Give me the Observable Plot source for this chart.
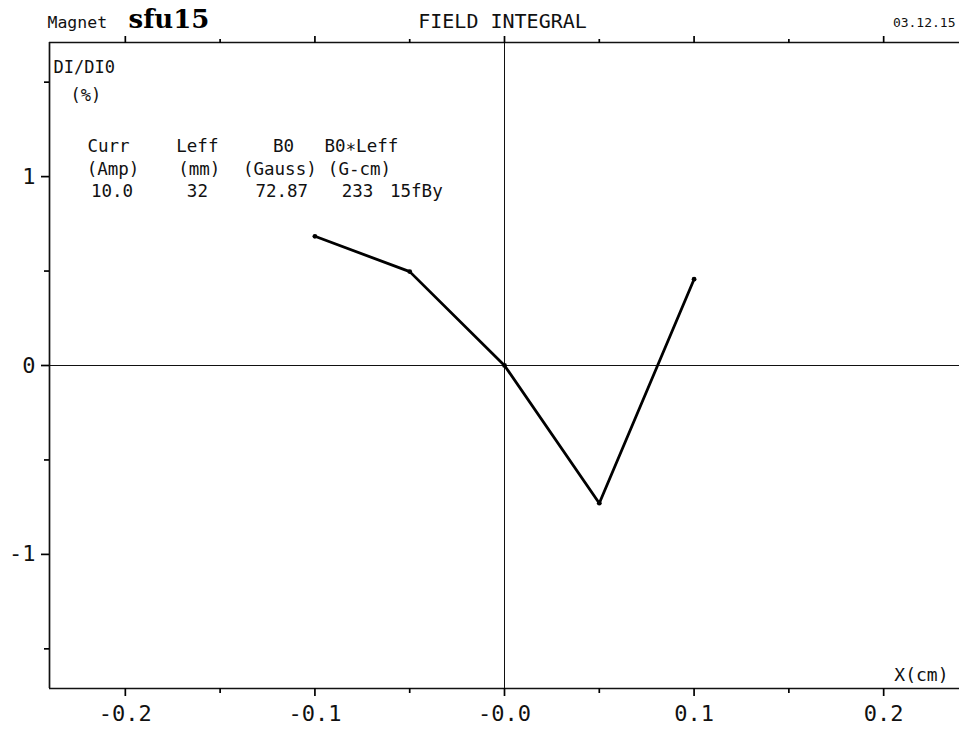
<!DOCTYPE html>
<html><head><meta charset="utf-8">
<script src="https://cdn.jsdelivr.net/npm/d3@7"></script>
<script src="https://cdn.jsdelivr.net/npm/@observablehq/plot@0.6"></script>
<style>body{margin:0;background:#fff}</style>
</head><body><div id="chart"></div>
<script>
// ---- data ----
const xPositions = [-0.1, -0.05, 0, 0.05, 0.1];
const fieldIntegral = [0.684, 0.497, 0, -0.729, 0.457];
const xMajorTicks = [-0.2, -0.1, 0, 0.1, 0.2];
const xMinorTicks = [-0.15, -0.05, 0.05, 0.15];
const xTickLabels = ["-0.2", "-0.1", "-0.0", "0.1", "0.2"];
const yMajorTicks = [-1, 0, 1];
const yMinorTicks = [-1.5, -0.5, 0.5, 1.5];
const yTickLabels = ["-1", "0", "1"];
const tableHeaders = ["Curr", "Leff", "B0", "B0\u2217Leff"];
const tableUnits = ["(Amp)", "(mm)", "(Gauss)", "(G-cm)"];
const tableValues = ["10.0", "32", "72.87", "233", "15fBy"];
const magnetWord = "Magnet";
const magnetName = "sfu15";
const plotTitle = "FIELD INTEGRAL";
const plotDate = "03.12.15";
const yLabelLines = ["DI/DI0", "(%)"];
const xLabel = "X(cm)";

const points = xPositions.map((x, i) => ({x, y: fieldIntegral[i]}));
const mono = "DejaVu Sans Mono";
const xDom = [-0.24, 0.24], yDom = [-1.71, 1.71];
const headerX = [-0.2089, -0.162, -0.1166, -0.0755];
const unitX = [-0.2065, -0.161, -0.1185, -0.0765];
const valueX = [-0.207, -0.162, -0.1175, -0.0775, -0.0465];

const chart = Plot.plot({
  width: 959, height: 731,
  marginTop: 42, marginBottom: 43, marginLeft: 49, marginRight: 0,
  style: {fontFamily: mono, background: "white", color: "black"},
  x: {domain: xDom},
  y: {domain: yDom},
  marks: [
    // zero lines
    Plot.ruleY([0], {stroke: "#111", strokeWidth: 1}),
    Plot.ruleX([0], {stroke: "#111", strokeWidth: 1}),
    // frame
    Plot.ruleX([xDom[0]], {stroke: "#111", strokeWidth: 1.7}),
    Plot.ruleY(yDom, {stroke: "#111", strokeWidth: 1.7}),
    // axes
    Plot.axisX(xMajorTicks, {anchor: "bottom", tickSize: 8, tickPadding: 9, strokeWidth: 1.7, label: null,
      tickFormat: d => xTickLabels[xMajorTicks.indexOf(d)], fontSize: 22, fill: "#111"}),
    Plot.axisX(xMinorTicks, {anchor: "bottom", tickSize: 5, strokeWidth: 1.7, label: null, tickFormat: () => ""}),
    Plot.axisX(xMajorTicks, {anchor: "top", tickSize: 7, strokeWidth: 1.7, label: null, tickFormat: () => ""}),
    Plot.axisX(xMinorTicks, {anchor: "top", tickSize: 4, strokeWidth: 1.7, label: null, tickFormat: () => ""}),
    Plot.axisY(yMajorTicks, {anchor: "left", tickSize: 8, tickPadding: 6, strokeWidth: 1.7, label: null,
      tickFormat: d => yTickLabels[yMajorTicks.indexOf(d)], fontSize: 22, fill: "#111"}),
    Plot.axisY(yMinorTicks, {anchor: "left", tickSize: 5, strokeWidth: 1.7, label: null, tickFormat: () => ""}),
    // data
    Plot.line(points, {x: "x", y: "y", stroke: "black", strokeWidth: 2.8}),
    Plot.dot(points, {x: "x", y: "y", r: 2.4, fill: "black"}),
    // header
    Plot.text([magnetWord], {text: d => d, frameAnchor: "top-left", dx: -2, dy: -15, lineAnchor: "bottom", textAnchor: "start", fontSize: 16.5, fill: "#111"}),
    Plot.text([magnetName], {text: d => d, frameAnchor: "top-left", dx: 79, dy: -15, lineAnchor: "bottom", textAnchor: "start", fontSize: 26, fontWeight: "bold", fontFamily: "DejaVu Serif"}),
    Plot.text([plotTitle], {text: d => d, frameAnchor: "top", dx: -2, dy: -15, lineAnchor: "bottom", fontSize: 20, fill: "#111"}),
    Plot.text([plotDate], {text: d => d, frameAnchor: "top-right", dx: -4, dy: -16, lineAnchor: "bottom", textAnchor: "end", fontSize: 13, fill: "#111"}),
    // y label
    Plot.text([yLabelLines[0]], {text: d => d, frameAnchor: "top-left", dx: 4, dy: 25, lineAnchor: "middle", textAnchor: "start", fontSize: 17, fill: "#111"}),
    Plot.text([yLabelLines[1]], {text: d => d, frameAnchor: "top-left", dx: 21, dy: 53, lineAnchor: "middle", textAnchor: "start", fontSize: 17, fill: "#111"}),
    // x label
    Plot.text([xLabel], {text: d => d, frameAnchor: "bottom-right", dx: -11, dy: -13, lineAnchor: "middle", textAnchor: "end", fontSize: 18, fill: "#111"}),
    // table
    Plot.text(tableHeaders, {text: d => d, x: (d, i) => headerX[i], frameAnchor: "top", dy: 104, lineAnchor: "middle", fontSize: 17.5, fill: "#111"}),
    Plot.text(tableUnits, {text: d => d, x: (d, i) => unitX[i], frameAnchor: "top", dy: 127, lineAnchor: "middle", fontSize: 17.5, fill: "#111"}),
    Plot.text(tableValues, {text: d => d, x: (d, i) => valueX[i], frameAnchor: "top", dy: 149, lineAnchor: "middle", fontSize: 17.5, fill: "#111"})
  ]
});
document.getElementById("chart").appendChild(chart);
</script>
</body></html>
